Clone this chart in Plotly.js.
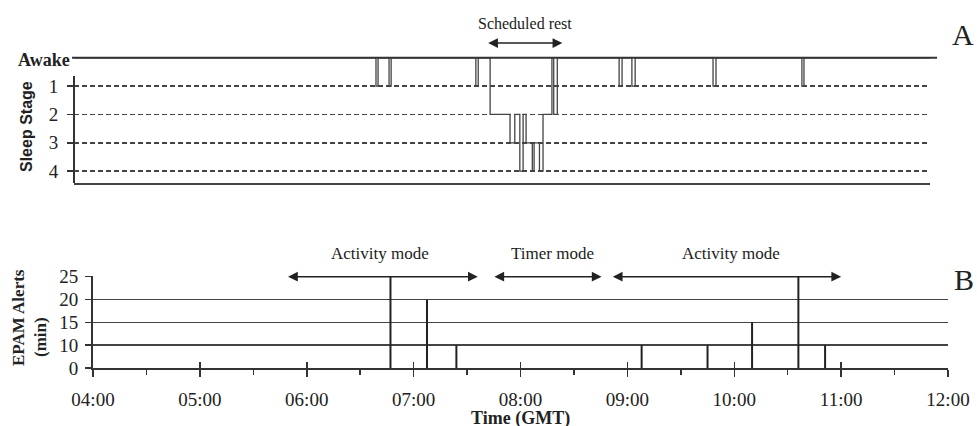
<!DOCTYPE html>
<html>
<head>
<meta charset="utf-8">
<script src="https://cdn.plot.ly/plotly-3.0.1.min.js"></script>
<style>html,body{margin:0;padding:0;background:#fff;}#chart{width:977px;height:426px;}</style>
</head>
<body>
<div id="chart"></div>
<script>
// ---------- DATA ----------
const DAY = '2000-01-01 ';
// Panel A: hypnogram (step changes)
const sleepStages = ['Awake', '1', '2', '3', '4'];
const hypTimes = ['04:00:00','06:49:20','06:50:30','06:56:40','06:57:50','07:45:20','07:46:40','07:53:20',
  '08:04:30','08:07:10','08:10:00','08:11:50','08:13:30','08:17:00','08:18:00','08:21:00','08:23:00',
  '08:28:00','08:29:00','08:31:00','09:05:40','09:07:20','09:12:50','09:14:40','09:58:20','10:00:00',
  '10:48:10','10:49:20','12:00:00'];
const hypStage = ['Awake','1','Awake','1','Awake','1','Awake','2',
  '3','2','4','2','3','4','3','4','2',
  'Awake','2','Awake','1','Awake','1','Awake','1','Awake',
  '1','Awake','Awake'];
const restStart = '07:51:25', restEnd = '08:33:50';

// Panel B: EPAM alerts
const alertLevels = ['0', '10', '15', '20', '25'];
const alertTimes = ['06:47','07:07:30','07:24','09:08','09:45','10:10','10:36','10:51'];
const alertMinutes = [25, 20, 10, 10, 10, 15, 25, 10];
const modeLabels = ['Activity mode', 'Timer mode', 'Activity mode'];
const modeCenters = ['06:41', '08:18', '09:58'];
const modeStarts = ['05:48:40', '07:44:30', '08:51'];
const modeEnds = ['07:36', '08:45:30', '11:00'];
const xTickFormat = '%H:%M';

// ---------- BUILD ----------
const W = 977, H = 426;
const px = v => v / W, py = v => 1 - v / H;
const serif = 'Liberation Serif, Times New Roman, serif';
const ink = '#222';

const hypTrace = {
  x: hypTimes.map(t => DAY + t), y: hypStage,
  xaxis: 'x', yaxis: 'y', mode: 'lines', line: {shape: 'hv', color: '#444', width: 1.3},
  hoverinfo: 'skip', showlegend: false
};

const bx = [], by = [];
alertTimes.forEach((t, i) => {
  bx.push(DAY + t, DAY + t, null);
  by.push('0', String(alertMinutes[i]), null);
});
const alertTrace = {
  x: bx, y: by, xaxis: 'x2', yaxis: 'y2', mode: 'lines',
  line: {color: '#222', width: 2}, connectgaps: false, hoverinfo: 'skip', showlegend: false
};
const dummy = {x: [DAY + '04:00'], y: ['0'], xaxis: 'x3', yaxis: 'y2', mode: 'markers',
  marker: {opacity: 0}, hoverinfo: 'skip', showlegend: false};

function txt(o) { return Object.assign({showarrow: false, xanchor: 'center', yanchor: 'middle'}, o); }

const annotations = [
  txt({xref: 'paper', yref: 'y', x: px(72), y: 0, xanchor: 'right', yshift: -2,
   text: '<b>Awake</b>', font: {family: serif, size: 18, color: ink}}),
  txt({xref: 'paper', yref: 'paper', x: px(27), y: py(127), textangle: -90,
   text: '<b>Sleep Stage</b>', font: {family: 'Liberation Sans, Arial, sans-serif', size: 16, color: ink}}),
  txt({xref: 'x', yref: 'paper', x: DAY + '08:12:40', y: py(23),
   text: 'Scheduled rest', font: {family: serif, size: 16, color: ink}}),
  {xref: 'x', yref: 'paper', x: DAY + restEnd, y: py(43), axref: 'x', ax: DAY + restStart, ayref: 'pixel', ay: 0,
   text: '', showarrow: true, arrowside: 'end+start', arrowhead: 2, startarrowhead: 2,
   arrowsize: 1.3, startarrowsize: 1.3, arrowwidth: 1.5, arrowcolor: '#222', standoff: 0, startstandoff: 0},
  txt({xref: 'paper', yref: 'paper', x: px(963), y: py(34), text: 'A',
   font: {family: serif, size: 30, color: ink}}),
  txt({xref: 'paper', yref: 'paper', x: px(964), y: py(279), text: 'B',
   font: {family: serif, size: 30, color: ink}}),
  txt({xref: 'paper', yref: 'paper', x: px(18), y: py(318), textangle: -90,
   text: '<b>EPAM Alerts</b>', font: {family: serif, size: 17, color: ink}}),
  txt({xref: 'paper', yref: 'paper', x: px(40), y: py(337), textangle: -90,
   text: '<b>(min)</b>', font: {family: serif, size: 17, color: ink}}),
  txt({xref: 'paper', yref: 'paper', x: px(520), y: py(418),
   text: '<b>Time (GMT)</b>', font: {family: serif, size: 18, color: ink}})
];
modeLabels.forEach((lab, i) => {
  annotations.push(txt({xref: 'x2', yref: 'paper', x: DAY + modeCenters[i], y: py(253),
    text: lab, font: {family: serif, size: 17, color: ink}}));
  annotations.push({xref: 'x2', yref: 'y2', x: DAY + modeEnds[i], y: 4, axref: 'x2', ax: DAY + modeStarts[i],
    ayref: 'pixel', ay: 0, text: '', showarrow: true, arrowside: 'end+start', arrowhead: 2, startarrowhead: 2,
    arrowsize: 1.3, startarrowsize: 1.3, arrowwidth: 1.5, arrowcolor: '#222', standoff: 0, startstandoff: 0});
});

const bottomRange = [DAY + '04:00', DAY + '12:00'];
const layout = {
  width: W, height: H, margin: {l: 0, r: 0, t: 0, b: 0},
  paper_bgcolor: '#fff', plot_bgcolor: 'rgba(0,0,0,0)', showlegend: false,
  xaxis: {domain: [px(74), px(930)], anchor: 'y', type: 'date', range: [DAY + '04:00', DAY + '12:00'],
    showline: true, linecolor: '#444', linewidth: 2, ticks: '', showticklabels: false,
    showgrid: false, zeroline: false, fixedrange: true},
  yaxis: {domain: [py(183), py(55)], anchor: 'x', type: 'category', categoryorder: 'array',
    categoryarray: sleepStages, range: [4.42, -0.1], tickmode: 'array', tickvals: ['1','2','3','4'],
    ticks: 'outside', ticklen: 6, tickwidth: 1.5, tickcolor: '#333',
    showgrid: true, gridcolor: '#444', gridwidth: 1.5, griddash: '5px,3px',
    showline: false, zeroline: false, ticklabelstandoff: 5,
    tickfont: {family: serif, size: 19, color: ink}, fixedrange: true},
  xaxis2: {domain: [px(93), px(948)], anchor: 'y2', type: 'date', range: bottomRange,
    dtick: 3600000, tick0: DAY + '04:00', tickformat: xTickFormat,
    ticks: 'outside', ticklen: 7, tickwidth: 1.5, tickcolor: '#333',
    minor: {dtick: 1800000, ticks: 'outside', ticklen: 5, tickwidth: 1.5, tickcolor: '#333', showgrid: false},
    showline: true, linecolor: '#333', linewidth: 2, showgrid: false, zeroline: false,
    ticklabelstandoff: 6, tickfont: {family: serif, size: 19, color: ink}, fixedrange: true},
  xaxis3: {overlaying: 'x2', anchor: 'y2', type: 'date', range: bottomRange, dtick: 3600000,
    tick0: DAY + '04:00', ticks: 'inside', ticklen: 6, tickwidth: 1.5, tickcolor: '#333',
    showticklabels: false, showgrid: false, showline: false, zeroline: false, fixedrange: true},
  yaxis2: {domain: [py(368), py(276)], anchor: 'x2', type: 'category', categoryorder: 'array',
    categoryarray: alertLevels, range: [0, 4.03], tickmode: 'linear', tick0: 0, dtick: 1,
    ticks: 'outside', ticklen: 6, tickwidth: 1.5, tickcolor: '#333',
    showline: true, linecolor: '#333', linewidth: 2,
    showgrid: true, gridcolor: '#444', gridwidth: 1.5, zeroline: false, ticklabelstandoff: 3,
    tickfont: {family: serif, size: 19, color: ink}, fixedrange: true},
  shapes: [
    {type: 'line', xref: 'paper', yref: 'y', x0: px(72), x1: px(937), y0: 0, y1: 0,
     line: {color: '#333', width: 2}},
    {type: 'line', xref: 'paper', yref: 'y', x0: px(74), x1: px(74), y0: 0.64, y1: 4.42,
     line: {color: '#333', width: 2}}
  ],
  annotations: annotations
};

Plotly.newPlot('chart', [hypTrace, alertTrace, dummy], layout, {staticPlot: true, displayModeBar: false});
</script>
</body>
</html>
